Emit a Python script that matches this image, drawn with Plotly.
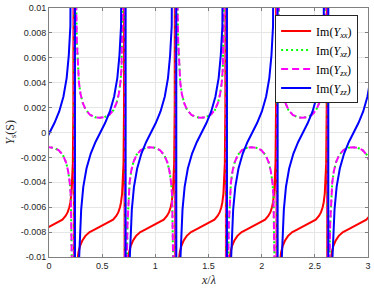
import plotly.graph_objects as go

# ---- data (x in units of x/lambda, y in S) ----
x_yxx = [-0.241, -0.237, -0.232, -0.226, -0.219, -0.209, -0.199, -0.184, -0.164, -0.134, -0.094, -0.049, -0.004, 0.041, 0.086, 0.126, 0.156, 0.176, 0.191, 0.201, 0.211, 0.218, 0.224, 0.229, 0.233,
         0.2355, 0.2395, 0.2445, 0.2505, 0.2575, 0.2675, 0.2775, 0.2925, 0.3125, 0.3425, 0.3825, 0.4275, 0.4725, 0.5175, 0.5625, 0.6025, 0.6325, 0.6525, 0.6675, 0.6775, 0.6875, 0.6945, 0.7005, 0.7055, 0.7095,
         0.712, 0.716, 0.721, 0.727, 0.734, 0.744, 0.754, 0.769, 0.789, 0.819, 0.859, 0.904, 0.949, 0.994, 1.039, 1.079, 1.109, 1.129, 1.144, 1.154, 1.164, 1.171, 1.177, 1.182, 1.186,
         1.1885, 1.1925, 1.1975, 1.2035, 1.2105, 1.2205, 1.2305, 1.2455, 1.2655, 1.2955, 1.3355, 1.3805, 1.4255, 1.4705, 1.5155, 1.5555, 1.5855, 1.6055, 1.6205, 1.6305, 1.6405, 1.6475, 1.6535, 1.6585, 1.6625,
         1.665, 1.669, 1.674, 1.68, 1.687, 1.697, 1.707, 1.722, 1.742, 1.772, 1.812, 1.857, 1.902, 1.947, 1.992, 2.032, 2.062, 2.082, 2.097, 2.107, 2.117, 2.124, 2.13, 2.135, 2.139,
         2.1415, 2.1455, 2.1505, 2.1565, 2.1635, 2.1735, 2.1835, 2.1985, 2.2185, 2.2485, 2.2885, 2.3335, 2.3785, 2.4235, 2.4685, 2.5085, 2.5385, 2.5585, 2.5735, 2.5835, 2.5935, 2.6005, 2.6065, 2.6115, 2.6155,
         2.618, 2.622, 2.627, 2.633, 2.64, 2.65, 2.66, 2.675, 2.695, 2.725, 2.765, 2.81, 2.855, 2.9, 2.945, 2.985, 3.015, 3.035, 3.05, 3.06, 3.07, 3.077, 3.083, 3.088, 3.092]
im_yxx = [-0.04, -0.022, -0.0155, -0.0125, -0.011, -0.0101, -0.0096, -0.0091, -0.0087, -0.0083, -0.008, -0.0078, -0.0076, -0.0074, -0.0072, -0.007, -0.0067, -0.0064, -0.006, -0.0056, -0.0049, -0.004, -0.0025, 0.002, 0.03,
          -0.04, -0.022, -0.0155, -0.0125, -0.011, -0.0101, -0.0096, -0.0091, -0.0087, -0.0083, -0.008, -0.0078, -0.0076, -0.0074, -0.0072, -0.007, -0.0067, -0.0064, -0.006, -0.0056, -0.0049, -0.004, -0.0025, 0.002, 0.03,
          -0.04, -0.022, -0.0155, -0.0125, -0.011, -0.0101, -0.0096, -0.0091, -0.0087, -0.0083, -0.008, -0.0078, -0.0076, -0.0074, -0.0072, -0.007, -0.0067, -0.0064, -0.006, -0.0056, -0.0049, -0.004, -0.0025, 0.002, 0.03,
          -0.04, -0.022, -0.0155, -0.0125, -0.011, -0.0101, -0.0096, -0.0091, -0.0087, -0.0083, -0.008, -0.0078, -0.0076, -0.0074, -0.0072, -0.007, -0.0067, -0.0064, -0.006, -0.0056, -0.0049, -0.004, -0.0025, 0.002, 0.03,
          -0.04, -0.022, -0.0155, -0.0125, -0.011, -0.0101, -0.0096, -0.0091, -0.0087, -0.0083, -0.008, -0.0078, -0.0076, -0.0074, -0.0072, -0.007, -0.0067, -0.0064, -0.006, -0.0056, -0.0049, -0.004, -0.0025, 0.002, 0.03,
          -0.04, -0.022, -0.0155, -0.0125, -0.011, -0.0101, -0.0096, -0.0091, -0.0087, -0.0083, -0.008, -0.0078, -0.0076, -0.0074, -0.0072, -0.007, -0.0067, -0.0064, -0.006, -0.0056, -0.0049, -0.004, -0.0025, 0.002, 0.03,
          -0.04, -0.022, -0.0155, -0.0125, -0.011, -0.0101, -0.0096, -0.0091, -0.0087, -0.0083, -0.008, -0.0078, -0.0076, -0.0074, -0.0072, -0.007, -0.0067, -0.0064, -0.006, -0.0056, -0.0049, -0.004, -0.0025, 0.002, 0.03]

x_yxz = [-0.237, -0.233, -0.228, -0.222, -0.215, -0.205, -0.195, -0.18, -0.16, -0.13, -0.09, -0.045, 0.0, 0.045, 0.09, 0.13, 0.16, 0.18, 0.195, 0.205, 0.215, 0.222, 0.228, 0.233, 0.237,
         0.2395, 0.2435, 0.2485, 0.2545, 0.2615, 0.2715, 0.2815, 0.2965, 0.3165, 0.3465, 0.3865, 0.4315, 0.4765, 0.5215, 0.5665, 0.6065, 0.6365, 0.6565, 0.6715, 0.6815, 0.6915, 0.6985, 0.7045, 0.7095, 0.7135,
         0.716, 0.72, 0.725, 0.731, 0.738, 0.748, 0.758, 0.773, 0.793, 0.823, 0.863, 0.908, 0.953, 0.998, 1.043, 1.083, 1.113, 1.133, 1.148, 1.158, 1.168, 1.175, 1.181, 1.186, 1.19,
         1.1925, 1.1965, 1.2015, 1.2075, 1.2145, 1.2245, 1.2345, 1.2495, 1.2695, 1.2995, 1.3395, 1.3845, 1.4295, 1.4745, 1.5195, 1.5595, 1.5895, 1.6095, 1.6245, 1.6345, 1.6445, 1.6515, 1.6575, 1.6625, 1.6665,
         1.669, 1.673, 1.678, 1.684, 1.691, 1.701, 1.711, 1.726, 1.746, 1.776, 1.816, 1.861, 1.906, 1.951, 1.996, 2.036, 2.066, 2.086, 2.101, 2.111, 2.121, 2.128, 2.134, 2.139, 2.143,
         2.1455, 2.1495, 2.1545, 2.1605, 2.1675, 2.1775, 2.1875, 2.2025, 2.2225, 2.2525, 2.2925, 2.3375, 2.3825, 2.4275, 2.4725, 2.5125, 2.5425, 2.5625, 2.5775, 2.5875, 2.5975, 2.6045, 2.6105, 2.6155, 2.6195,
         2.622, 2.626, 2.631, 2.637, 2.644, 2.654, 2.664, 2.679, 2.699, 2.729, 2.769, 2.814, 2.859, 2.904, 2.949, 2.989, 3.019, 3.039, 3.054, 3.064, 3.074, 3.081, 3.087, 3.092, 3.096]
im_yxz = [-0.142, -0.0341, -0.0175, -0.011, -0.0074, -0.0051, -0.004, -0.0031, -0.0024, -0.0018, -0.00142, -0.00123, -0.00118, -0.00123, -0.00142, -0.0018, -0.0024, -0.0031, -0.004, -0.0051, -0.0074, -0.011, -0.0175, -0.0341, -0.142,
          0.142, 0.0341, 0.0175, 0.011, 0.0074, 0.0051, 0.004, 0.0031, 0.0024, 0.0018, 0.00142, 0.00123, 0.00118, 0.00123, 0.00142, 0.0018, 0.0024, 0.0031, 0.004, 0.0051, 0.0074, 0.011, 0.0175, 0.0341, 0.142,
          -0.142, -0.0341, -0.0175, -0.011, -0.0074, -0.0051, -0.004, -0.0031, -0.0024, -0.0018, -0.00142, -0.00123, -0.00118, -0.00123, -0.00142, -0.0018, -0.0024, -0.0031, -0.004, -0.0051, -0.0074, -0.011, -0.0175, -0.0341, -0.142,
          0.142, 0.0341, 0.0175, 0.011, 0.0074, 0.0051, 0.004, 0.0031, 0.0024, 0.0018, 0.00142, 0.00123, 0.00118, 0.00123, 0.00142, 0.0018, 0.0024, 0.0031, 0.004, 0.0051, 0.0074, 0.011, 0.0175, 0.0341, 0.142,
          -0.142, -0.0341, -0.0175, -0.011, -0.0074, -0.0051, -0.004, -0.0031, -0.0024, -0.0018, -0.00142, -0.00123, -0.00118, -0.00123, -0.00142, -0.0018, -0.0024, -0.0031, -0.004, -0.0051, -0.0074, -0.011, -0.0175, -0.0341, -0.142,
          0.142, 0.0341, 0.0175, 0.011, 0.0074, 0.0051, 0.004, 0.0031, 0.0024, 0.0018, 0.00142, 0.00123, 0.00118, 0.00123, 0.00142, 0.0018, 0.0024, 0.0031, 0.004, 0.0051, 0.0074, 0.011, 0.0175, 0.0341, 0.142,
          -0.142, -0.0341, -0.0175, -0.011, -0.0074, -0.0051, -0.004, -0.0031, -0.0024, -0.0018, -0.00142, -0.00123, -0.00118, -0.00123, -0.00142, -0.0018, -0.0024, -0.0031, -0.004, -0.0051, -0.0074, -0.011, -0.0175, -0.0341, -0.142]

# Y_zx is read as identical to Y_xz in the reference
x_yzx = x_yxz
im_yzx = im_yxz

x_yzz = [-0.231, -0.227, -0.222, -0.216, -0.209, -0.199, -0.189, -0.174, -0.154, -0.124, -0.084, -0.039, 0.006, 0.051, 0.096, 0.136, 0.166, 0.186, 0.201, 0.211, 0.221, 0.228, 0.234, 0.239, 0.243,
         0.2455, 0.2495, 0.2545, 0.2605, 0.2675, 0.2775, 0.2875, 0.3025, 0.3225, 0.3525, 0.3925, 0.4375, 0.4825, 0.5275, 0.5725, 0.6125, 0.6425, 0.6625, 0.6775, 0.6875, 0.6975, 0.7045, 0.7105, 0.7155, 0.7195,
         0.722, 0.726, 0.731, 0.737, 0.744, 0.754, 0.764, 0.779, 0.799, 0.829, 0.869, 0.914, 0.959, 1.004, 1.049, 1.089, 1.119, 1.139, 1.154, 1.164, 1.174, 1.181, 1.187, 1.192, 1.196,
         1.1985, 1.2025, 1.2075, 1.2135, 1.2205, 1.2305, 1.2405, 1.2555, 1.2755, 1.3055, 1.3455, 1.3905, 1.4355, 1.4805, 1.5255, 1.5655, 1.5955, 1.6155, 1.6305, 1.6405, 1.6505, 1.6575, 1.6635, 1.6685, 1.6725,
         1.675, 1.679, 1.684, 1.69, 1.697, 1.707, 1.717, 1.732, 1.752, 1.782, 1.822, 1.867, 1.912, 1.957, 2.002, 2.042, 2.072, 2.092, 2.107, 2.117, 2.127, 2.134, 2.14, 2.145, 2.149,
         2.1515, 2.1555, 2.1605, 2.1665, 2.1735, 2.1835, 2.1935, 2.2085, 2.2285, 2.2585, 2.2985, 2.3435, 2.3885, 2.4335, 2.4785, 2.5185, 2.5485, 2.5685, 2.5835, 2.5935, 2.6035, 2.6105, 2.6165, 2.6215, 2.6255,
         2.628, 2.632, 2.637, 2.643, 2.65, 2.66, 2.67, 2.685, 2.705, 2.735, 2.775, 2.82, 2.865, 2.91, 2.955, 2.995, 3.025, 3.045, 3.06, 3.07, 3.08, 3.087, 3.093, 3.098, 3.102]
im_yzz = [-0.3, -0.072, -0.037, -0.0232, -0.0162, -0.01125, -0.00856, -0.0062, -0.00437, -0.00289, -0.00169, -0.00076, 0.0, 0.00076, 0.00169, 0.00289, 0.00437, 0.0062, 0.00856, 0.01125, 0.0162, 0.0232, 0.037, 0.072, 0.3,
          -0.3, -0.072, -0.037, -0.0232, -0.0162, -0.01125, -0.00856, -0.0062, -0.00437, -0.00289, -0.00169, -0.00076, 0.0, 0.00076, 0.00169, 0.00289, 0.00437, 0.0062, 0.00856, 0.01125, 0.0162, 0.0232, 0.037, 0.072, 0.3,
          -0.3, -0.072, -0.037, -0.0232, -0.0162, -0.01125, -0.00856, -0.0062, -0.00437, -0.00289, -0.00169, -0.00076, 0.0, 0.00076, 0.00169, 0.00289, 0.00437, 0.0062, 0.00856, 0.01125, 0.0162, 0.0232, 0.037, 0.072, 0.3,
          -0.3, -0.072, -0.037, -0.0232, -0.0162, -0.01125, -0.00856, -0.0062, -0.00437, -0.00289, -0.00169, -0.00076, 0.0, 0.00076, 0.00169, 0.00289, 0.00437, 0.0062, 0.00856, 0.01125, 0.0162, 0.0232, 0.037, 0.072, 0.3,
          -0.3, -0.072, -0.037, -0.0232, -0.0162, -0.01125, -0.00856, -0.0062, -0.00437, -0.00289, -0.00169, -0.00076, 0.0, 0.00076, 0.00169, 0.00289, 0.00437, 0.0062, 0.00856, 0.01125, 0.0162, 0.0232, 0.037, 0.072, 0.3,
          -0.3, -0.072, -0.037, -0.0232, -0.0162, -0.01125, -0.00856, -0.0062, -0.00437, -0.00289, -0.00169, -0.00076, 0.0, 0.00076, 0.00169, 0.00289, 0.00437, 0.0062, 0.00856, 0.01125, 0.0162, 0.0232, 0.037, 0.072, 0.3,
          -0.3, -0.072, -0.037, -0.0232, -0.0162, -0.01125, -0.00856, -0.0062, -0.00437, -0.00289, -0.00169, -0.00076, 0.0, 0.00076, 0.00169, 0.00289, 0.00437, 0.0062, 0.00856, 0.01125, 0.0162, 0.0232, 0.037, 0.072, 0.3]

x_tick_vals = [0, 0.5, 1, 1.5, 2, 2.5, 3]
x_tick_text = ["0", "0.5", "1", "1.5", "2", "2.5", "3"]
y_tick_vals = [-0.01, -0.008, -0.006, -0.004, -0.002, 0, 0.002, 0.004, 0.006, 0.008, 0.01]
y_tick_text = ["-0.01", "-0.008", "-0.006", "-0.004", "-0.002", "0", "0.002", "0.004", "0.006", "0.008", "0.01"]

names = ["Im(<i>Y</i><sub><i>xx</i></sub>)", "Im(<i>Y</i><sub><i>xz</i></sub>)",
         "Im(<i>Y</i><sub><i>zx</i></sub>)", "Im(<i>Y</i><sub><i>zz</i></sub>)"]
x_title = "<i>x</i>/<i>λ</i>"
y_title = "<i>Y</i><sub>s</sub>(S)"

fig = go.Figure()
fig.add_trace(go.Scatter(x=x_yxx, y=im_yxx, mode="lines", name=names[0],
                         line=dict(color="#ff0000", width=2)))
fig.add_trace(go.Scatter(x=x_yxz, y=im_yxz, mode="lines", name=names[1],
                         line=dict(color="#00ff00", width=2, dash="2px,3px")))
fig.add_trace(go.Scatter(x=x_yzx, y=im_yzx, mode="lines", name=names[2],
                         line=dict(color="#ff00ff", width=2, dash="7px,4px")))
fig.add_trace(go.Scatter(x=x_yzz, y=im_yzz, mode="lines", name=names[3],
                         line=dict(color="#0000ff", width=2)))

axis_common = dict(
    showline=True, linecolor="#808080", linewidth=1, mirror="ticks",
    ticks="inside", ticklen=3, tickcolor="#808080",
    showgrid=True, gridcolor="#e6e6e6", gridwidth=1, zeroline=False,
    ticklabeloverflow="allow",
    tickfont=dict(family="Liberation Sans, Arial, sans-serif", size=9, color="#262626"),
)

serif = "Liberation Serif, Times New Roman, serif"

fig.update_layout(
    width=374, height=289,
    margin=dict(l=49, r=3, t=3, b=32),
    paper_bgcolor="white", plot_bgcolor="white",
    showlegend=True,
    legend=dict(
        x=0.969, y=0.97, xanchor="right", yanchor="top",
        bgcolor="white", bordercolor="#262626", borderwidth=1,
        font=dict(family=serif, size=12, color="#000000"),
        tracegroupgap=0, itemwidth=30,
    ),
    xaxis=dict(range=[0, 3], tickvals=x_tick_vals, ticktext=x_tick_text, **axis_common),
    yaxis=dict(range=[-0.01, 0.01], tickvals=y_tick_vals, ticktext=y_tick_text, **axis_common),
    annotations=[
        dict(text=x_title, xref="paper", yref="paper", x=0.5, y=-0.094,
             xanchor="center", yanchor="middle", showarrow=False,
             font=dict(family=serif, size=12, color="#262626")),
        dict(text=y_title, xref="paper", yref="paper", x=-0.122, y=0.5,
             xanchor="center", yanchor="middle", showarrow=False, textangle=-90,
             font=dict(family=serif, size=12, color="#262626")),
    ],
)

fig.write_html("out.html", config={"displayModeBar": False},
               post_script="document.body.style.margin='0';document.body.style.padding='0';")
